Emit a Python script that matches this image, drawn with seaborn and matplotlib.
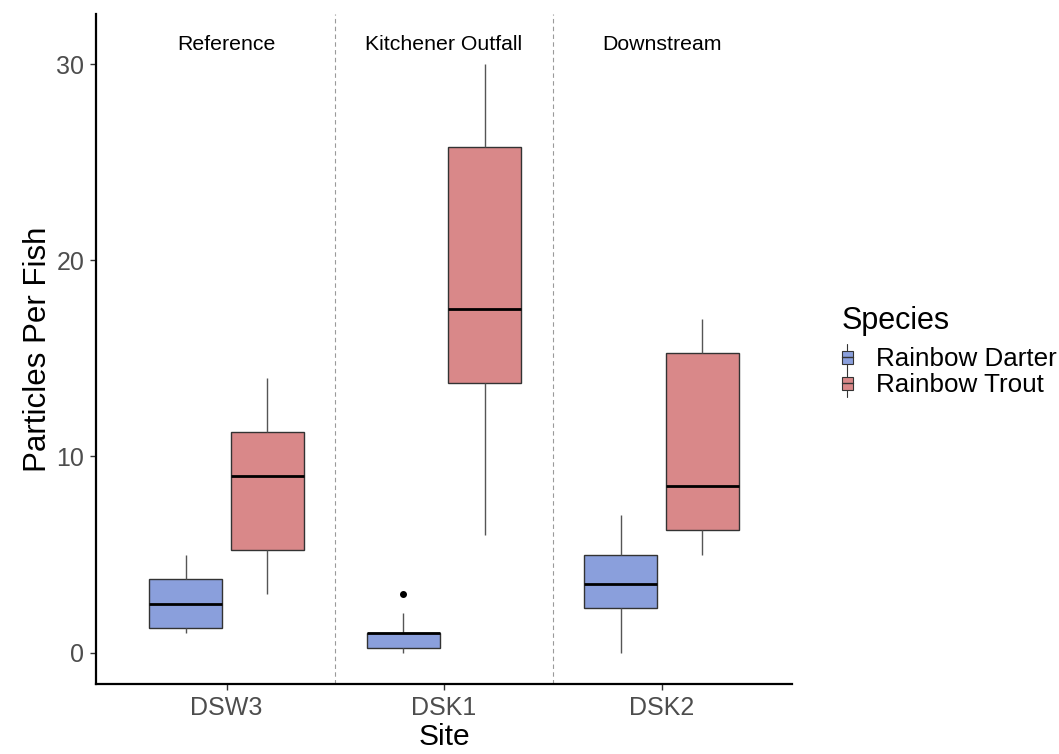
import numpy as np
import pandas as pd
import matplotlib
matplotlib.use("Agg")
import matplotlib.pyplot as plt
from matplotlib.legend_handler import HandlerBase
from matplotlib.patches import Rectangle, Patch
from matplotlib.lines import Line2D
import seaborn as sns

# Particle counts per fish, grouped by site and species
sites = ["DSW3", "DSK1", "DSK2"]
species = ["Rainbow Darter", "Rainbow Trout"]
site_labels = ["Reference", "Kitchener Outfall", "Downstream"]

dsw3_darter = [1, 1, 2, 3, 4, 5]
dsw3_trout = [3, 3, 6, 8, 10, 11, 12, 14]
dsk1_darter = [0, 0, 0, 1, 1, 1, 1, 1, 2, 3]
dsk1_trout = [6, 13, 16, 19, 28, 30]
dsk2_darter = [0, 0, 3, 3, 4, 5, 5, 7]
dsk2_trout = [5, 6, 7, 10, 17, 17]

colors = {"Rainbow Darter": "#8a9fdc", "Rainbow Trout": "#d98889"}

groups = {
    ("DSW3", "Rainbow Darter"): dsw3_darter,
    ("DSW3", "Rainbow Trout"): dsw3_trout,
    ("DSK1", "Rainbow Darter"): dsk1_darter,
    ("DSK1", "Rainbow Trout"): dsk1_trout,
    ("DSK2", "Rainbow Darter"): dsk2_darter,
    ("DSK2", "Rainbow Trout"): dsk2_trout,
}
rows = [(s, sp, v) for (s, sp), vals in groups.items() for v in vals]
df = pd.DataFrame(rows, columns=["Site", "Species", "Particles"])

sns.set_theme(style="ticks")
plt.rcParams["font.family"] = ["Liberation Sans", "DejaVu Sans"]

W, H = 1059, 754
fig = plt.figure(figsize=(W / 100, H / 100), dpi=100)
ax = fig.add_axes([96 / W, (H - 684) / H, (792 - 96) / W, (684 - 14) / H])

line_col = "#333333"
sns.boxplot(
    data=df, x="Site", y="Particles", hue="Species",
    order=sites, hue_order=species, palette=colors,
    width=0.75, gap=0.1, linecolor=line_col, linewidth=1.0,
    showcaps=False, saturation=1,
    medianprops=dict(color="black", linewidth=2.0),
    whiskerprops=dict(color="#555555", linewidth=1.0),
    flierprops=dict(marker="o", markersize=4, markerfacecolor="black",
                    markeredgecolor="black"),
    legend=False, ax=ax,
)

# Dashed separators between sites
for xpos in [0.5, 1.5]:
    ax.axvline(xpos, color="#9a9a9a", linewidth=0.8, linestyle=(0, (4, 3)), zorder=0)

# Site descriptions above each group
for i, lab in enumerate(site_labels):
    ax.text(i, 31, lab, ha="center", va="center", fontsize=15.3, color="black")

ax.set_xlim(-0.6, 2.6)
ax.set_ylim(-1.6, 32.55)
ax.set_yticks([0, 10, 20, 30])

for side in ["top", "right"]:
    ax.spines[side].set_visible(False)
for side in ["left", "bottom"]:
    ax.spines[side].set_linewidth(1.6)
    ax.spines[side].set_color("black")

ax.tick_params(axis="both", length=4.5, width=1.0, color=line_col,
               labelcolor="#4d4d4d", labelsize=18, pad=4)
ax.set_xlabel("Site", fontsize=21.6, color="black", labelpad=2)
ax.set_ylabel("Particles Per Fish", fontsize=22.5, color="black", labelpad=2.5)


class BoxGlyph(HandlerBase):
    """Small boxplot glyph for legend entries."""

    def create_artists(self, legend, orig_handle, xdescent, ydescent,
                       width, height, fontsize, trans):
        x0, y0 = -xdescent, -ydescent
        cx = x0 + width / 2
        box_b = y0 + height * 0.1
        box_t = y0 + height * 0.88
        whisk = Line2D([cx, cx], [y0 - height * 0.32, y0 + height * 1.3],
                       color=line_col, linewidth=0.8, transform=trans)
        rect = Rectangle((x0, box_b), width, box_t - box_b,
                         facecolor=orig_handle.get_facecolor(),
                         edgecolor=line_col, linewidth=0.8, transform=trans)
        med = Line2D([x0, x0 + width], [(box_b + box_t) / 2] * 2,
                     color=line_col, linewidth=1.0, transform=trans)
        return [whisk, rect, med]


handles = [Patch(facecolor=colors[s]) for s in species]
leg = fig.legend(
    handles, species, handler_map={Patch: BoxGlyph()},
    loc="upper left", bbox_to_anchor=(842 / W, 1 - 306 / H),
    frameon=False, title="Species", title_fontsize=22,
    fontsize=18.7, handlelength=0.42, handleheight=0.6,
    handletextpad=0.9, labelspacing=0.08, borderaxespad=0, borderpad=0,
)
leg._legend_box.align = "left"
leg._legend_box.sep = 8
leg.get_title().set_color("black")
for t in leg.get_texts():
    t.set_color("black")

fig.savefig("out.png", dpi=100)
